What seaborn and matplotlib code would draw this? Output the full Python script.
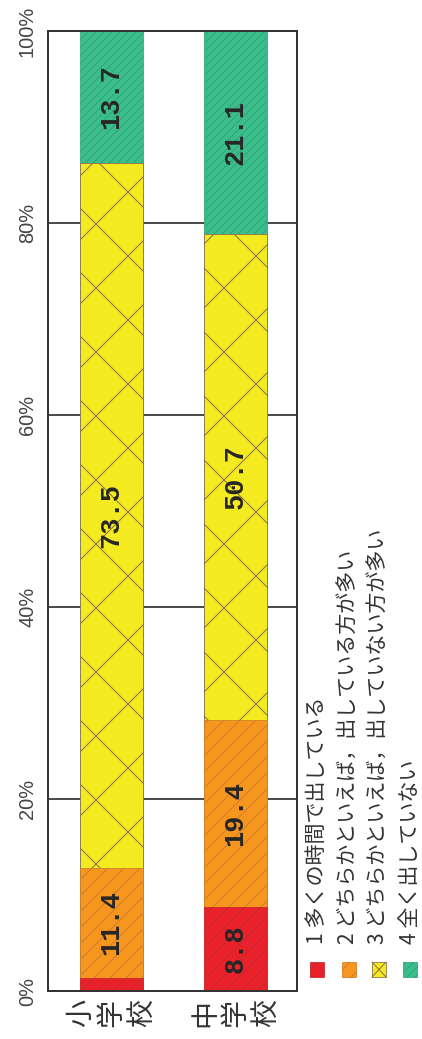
import numpy as np
import pandas as pd
import matplotlib
matplotlib.use("Agg")
import matplotlib.pyplot as plt
import seaborn as sns
from matplotlib.patches import Rectangle
from matplotlib.lines import Line2D

# ---------------- data ----------------
categories = ["小学校", "中学校"]
cat_labels = ["小\n学\n校", "中\n学\n校"]
series_names = [
    "1 多くの時間で出している",
    "2 どちらかといえば，出している方が多い",
    "3 どちらかといえば，出していない方が多い",
    "4 全く出していない",
]
v1 = [1.4, 8.8]
v2 = [11.4, 19.4]
v3 = [73.5, 50.7]
v4 = [13.7, 21.1]
ytick_values = [0, 20, 40, 60, 80, 100]
ytick_labels = ["0%", "20%", "40%", "60%", "80%", "100%"]

# ---------------- style ----------------
DPI = 192
W, H = 422, 1039


def pt(px):
    return px * 72.0 / DPI


colors = ["#E8212B", "#F6961E", "#F3EA1F", "#3CBE8C"]
hatch_colors = ["#C8282E", "#CF7E2A", "#8B6E4C", "#2FA676"]
hatches = ["////", "////", "x", "////////"]

sns.set_theme(style="white")
plt.rcParams["font.family"] = ["Noto Sans CJK JP", "DejaVu Sans"]
plt.rcParams["hatch.linewidth"] = pt(1.0)

fig = plt.figure(figsize=(W / DPI, H / DPI), dpi=DPI)
ax = fig.add_axes([48 / W, 1 - 991 / H, (297 - 48) / W, (991 - 31) / H])

series = [v1, v2, v3, v4]
cum = np.cumsum(np.array(series), axis=0)

for i in reversed(range(len(series))):
    df = pd.DataFrame({"cat": categories, "val": cum[i]})
    sns.barplot(data=df, x="cat", y="val", order=categories, color=colors[i],
                width=0.51, saturation=1, errorbar=None, ax=ax)
    for p in ax.containers[-1]:
        p.set_facecolor(colors[i])
        p.set_edgecolor(hatch_colors[i])
        p.set_hatch(hatches[i])
        p.set_linewidth(pt(0.8))
        p.set_zorder(2)

# value labels
for i, vals in enumerate(series):
    for j, v in enumerate(vals):
        if v >= 5:
            ax.text(j, cum[i][j] - v / 2, f"{v:.1f}", rotation=90, ha="center",
                    va="center", fontsize=pt(27), family="Liberation Mono",
                    weight="bold", color="#262626", zorder=5)

ax.set_xlim(-0.512, 1.496)
ax.set_ylim(0, 100)
ax.set_xlabel("")
ax.set_ylabel("")
ax.set_yticks(ytick_values)
ax.set_yticklabels(ytick_labels, rotation=90, va="center", ha="right",
                   fontsize=pt(20), color="#444444", family=["Liberation Sans"])
ax.set_xticks(range(len(categories)))
ax.set_xticklabels(cat_labels, rotation=90, ha="center", va="top", linespacing=1.0,
                   fontsize=pt(28), color="#333333")
ax.tick_params(axis="y", length=0, pad=pt(11))
ax.tick_params(axis="x", length=0, pad=pt(8))

ax.yaxis.grid(True, color="#222222", linewidth=pt(1.6))
ax.xaxis.grid(False)
ax.set_axisbelow(True)
for s in ax.spines.values():
    s.set_visible(True)
    s.set_color("#333333")
    s.set_linewidth(pt(2))

# legend (rotated, drawn manually)
leg_x = [317, 349, 379, 410]
for k in range(4):
    cx = leg_x[k]
    rect = Rectangle(((cx - 7) / W, 1 - 977 / H), 14 / W, 15 / H,
                     transform=fig.transFigure, facecolor=colors[k],
                     edgecolor=hatch_colors[k], linewidth=pt(0.8),
                     hatch=(hatches[k] if k != 2 else None))
    fig.add_artist(rect)
    if k == 2:
        fig.add_artist(Line2D([(cx - 7) / W, (cx + 7) / W], [1 - 977 / H, 1 - 962 / H],
                              transform=fig.transFigure, color=hatch_colors[k], lw=pt(1)))
        fig.add_artist(Line2D([(cx - 7) / W, (cx + 7) / W], [1 - 962 / H, 1 - 977 / H],
                              transform=fig.transFigure, color=hatch_colors[k], lw=pt(1)))
    fig.text(cx / W, 1 - 944 / H, series_names[k], rotation=90, ha="center",
             va="bottom", fontsize=pt(21), color="#333333")

fig.savefig("out.png", dpi=DPI, facecolor="white")
